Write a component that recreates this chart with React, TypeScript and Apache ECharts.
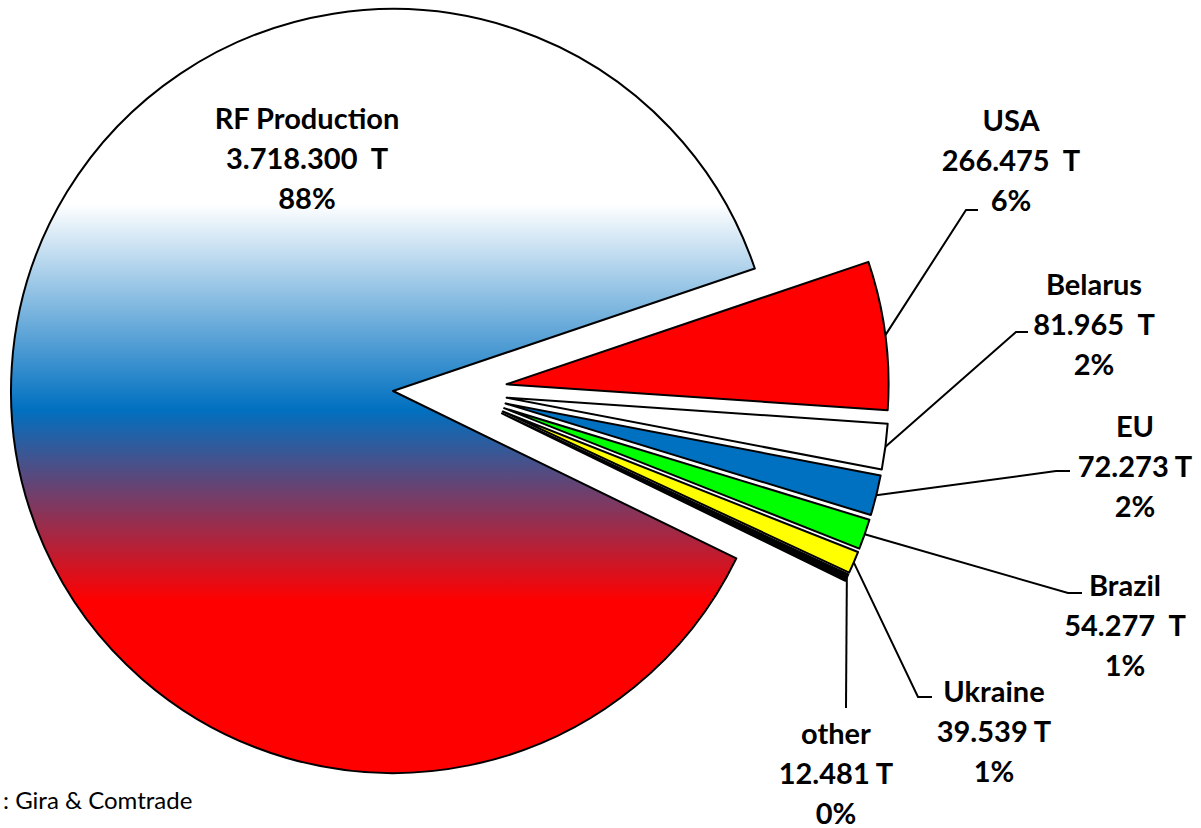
import React, { useEffect, useRef } from 'react';
import * as echarts from 'echarts';

// ---- data ----
const categories = ['USA', 'Belarus', 'EU', 'Brazil', 'Ukraine', 'other', 'RF Production'];
const tonnes = [266475, 81965, 72273, 54277, 39539, 12481, 3718300];
const unitSuffix = ['  T', '  T', ' T', '  T', ' T', ' T', '  T'];
const sliceColors = ['#ff0000', '#ffffff', '#0070c0', '#00ff00', '#ffff00', '#000000'];
const rfGradientStops: [number, string][] = [
  [0, '#ffffff'],
  [0.255, '#ffffff'],
  [0.525, '#0070c0'],
  [0.775, '#ff0000'],
  [1, '#ff0000'],
];
const sourceNote = ': Gira & Comtrade';

// ---- layout ----
const PIE_R = 382;
const MAIN_CENTER = [393, 391];
const GROUP_CENTER = [455, 391];
const EXPLODE = 52;
const START_ANGLE = 18.7;
const labelSpots: { x: number; y: number; elbow?: number[]; end?: number[] }[] = [
  { x: 1011, y: 159, elbow: [966, 210], end: [978, 210] },
  { x: 1094, y: 323, elbow: [1016, 332], end: [1028, 332] },
  { x: 1135, y: 465, elbow: [1056, 471], end: [1070, 471] },
  { x: 1125, y: 624, elbow: [1068, 593], end: [1082, 593] },
  { x: 994, y: 730, elbow: [918, 697], end: [932, 697] },
  { x: 836, y: 772, elbow: [846, 708], end: [846, 708] },
  { x: 307, y: 157 },
];

const total = tonnes.reduce((a, b) => a + b, 0);
const pct = (i: number) => Math.round((tonnes[i] / total) * 100);
const fmt = (v: number) => String(v).replace(/\B(?=(\d{3})+(?!\d))/g, '.');
const midAngles: number[] = (() => {
  const out: number[] = [];
  let acc = 0;
  tonnes.forEach((v) => {
    const span = (v / total) * 360;
    out.push(START_ANGLE - acc - span / 2);
    acc += span;
  });
  return out;
})();

const labelFont = {
  fontFamily: 'Lato',
  fontWeight: 'bold' as const,
  fontSize: 29,
  lineHeight: 40,
  color: '#000',
};

const formatter = (p: any) =>
  `${p.name}\n${fmt(p.value)}${unitSuffix[p.dataIndex]}\n${pct(p.dataIndex)}%`;

const hidden = { color: 'rgba(0,0,0,0)', borderWidth: 0 };

function buildOption() {
  const series: any[] = [];
  // main RF slice
  series.push({
    type: 'pie',
    center: MAIN_CENTER,
    radius: PIE_R,
    startAngle: START_ANGLE,
    clockwise: true,
    avoidLabelOverlap: false,
    silent: true,
    emphasis: { disabled: true },
    label: { position: 'inside', formatter, ...labelFont },
    labelLine: { show: false },
    labelLayout: (p: any) =>
      p.dataIndex === 6
        ? { x: labelSpots[6].x, y: labelSpots[6].y, align: 'center', verticalAlign: 'middle' }
        : {},
    data: categories.map((name, i) => ({
      name,
      value: tonnes[i],
      itemStyle:
        i === 6
          ? {
              color: {
                type: 'linear',
                x: 0,
                y: 0,
                x2: 0,
                y2: 1,
                colorStops: rfGradientStops.map(([offset, color]) => ({ offset, color })),
              },
              borderColor: '#000',
              borderWidth: 2,
            }
          : hidden,
      label: { show: i === 6 },
    })),
  });
  // exploded small slices, one series each
  for (let k = 0; k < 6; k++) {
    const a = (midAngles[k] * Math.PI) / 180;
    const cx = GROUP_CENTER[0] + EXPLODE * Math.cos(a);
    const cy = GROUP_CENTER[1] - EXPLODE * Math.sin(a);
    const start = [cx + PIE_R * Math.cos(a), cy - PIE_R * Math.sin(a)];
    const spot = labelSpots[k];
    series.push({
      type: 'pie',
      center: [cx, cy],
      radius: PIE_R,
      startAngle: START_ANGLE,
      clockwise: true,
      avoidLabelOverlap: false,
      silent: true,
      emphasis: { disabled: true },
      label: { position: 'outside', formatter, ...labelFont },
      labelLine: { show: true, length: 10, length2: 10, lineStyle: { color: '#000', width: 2 } },
      labelLayout: (p: any) =>
        p.dataIndex === k
          ? {
              x: spot.x,
              y: spot.y,
              align: 'center',
              verticalAlign: 'middle',
              labelLinePoints: [start, spot.elbow, spot.end],
            }
          : {},
      data: categories.map((name, i) => ({
        name,
        value: tonnes[i],
        itemStyle:
          i === k ? { color: sliceColors[k], borderColor: '#000', borderWidth: 2 } : hidden,
        label: { show: i === k },
        labelLine: { show: i === k },
      })),
    });
  }
  return {
    animation: false,
    backgroundColor: '#ffffff',
    series,
    graphic: [
      {
        type: 'text',
        left: 3,
        top: 787,
        style: { text: sourceNote, font: '24px Lato', fill: '#000' },
      },
    ],
  };
}

export default function App() {
  const ref = useRef<HTMLDivElement>(null);
  useEffect(() => {
    if (!ref.current) return;
    const chart = echarts.init(ref.current, undefined, { renderer: 'svg' });
    chart.setOption(buildOption() as any);
    return () => chart.dispose();
  }, []);
  return (
    <div
      ref={ref}
      style={{ position: 'absolute', left: 0, top: 0, width: 1201, height: 828, background: '#fff' }}
    />
  );
}
